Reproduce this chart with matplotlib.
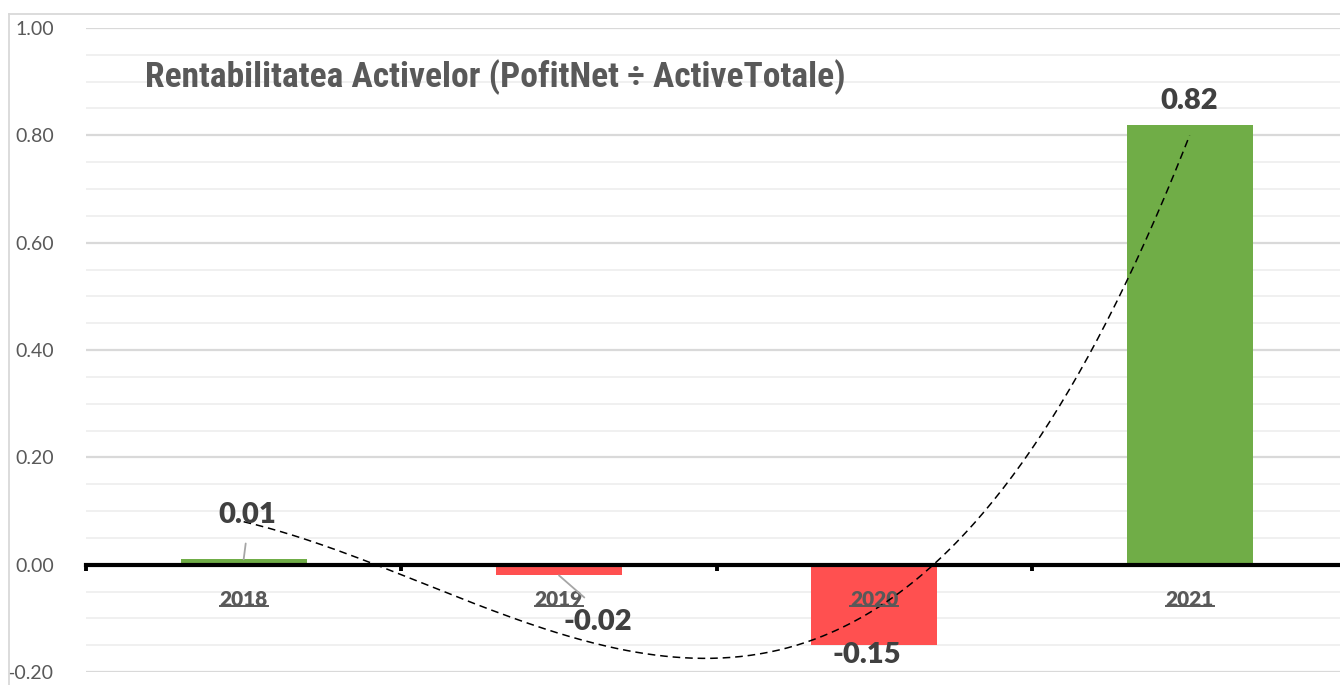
import numpy as np
import matplotlib
matplotlib.use("Agg")
import matplotlib.pyplot as plt
from matplotlib.lines import Line2D
from matplotlib.transforms import IdentityTransform

# ---------------- data ----------------
years = ["2018", "2019", "2020", "2021"]
values = [0.01, -0.02, -0.15, 0.82]
value_labels = ["0.01", "-0.02", "-0.15", "0.82"]
# dashed trend curve, read at each category position
trend_values = [0.08, -0.128, -0.084, 0.80]
y_ticks = [-0.20, 0.00, 0.20, 0.40, 0.60, 0.80, 1.00]
y_tick_labels = ["-0.20", "0.00", "0.20", "0.40", "0.60", "0.80", "1.00"]
title = "Rentabilitatea Activelor (PofitNet \u00f7 ActiveTotale)"

# ---------------- style ----------------
GREEN = "#70AD47"
RED = "#FF5050"
GRAY_TXT = "#595959"
LABEL_TXT = "#404040"
FONT = ["Lato", "DejaVu Sans"]

W, H = 1340, 685
fig = plt.figure(figsize=(W / 100, H / 100), dpi=100)
fig.patch.set_facecolor("white")

left_px, right_px, top_px, bot_px = 86, 1347.3, 28, 672
ax = fig.add_axes([left_px / W, (H - bot_px) / H,
                   (right_px - left_px) / W, (bot_px - top_px) / H])

x = np.arange(1, len(years) + 1)
colors = [GREEN if v >= 0 else RED for v in values]
ax.bar(x, values, width=0.40, color=colors, zorder=2)

# trend curve (cubic through the read trend values)
coef = np.polyfit(x, trend_values, 3)
xs = np.linspace(x[0], x[-1], 300)
ax.plot(xs, np.polyval(coef, xs), color="black", lw=1.1,
        linestyle=(0, (5, 3.2)), zorder=4)

ax.set_xlim(0.5, len(years) + 0.5)
ax.set_ylim(-0.2, 1.0)

# y axis
ax.set_yticks(y_ticks)
ax.set_yticklabels(y_tick_labels, family=FONT, fontsize=14, color=GRAY_TXT)
ax.set_yticks(np.arange(-0.2, 1.0001, 0.05), minor=True)
ax.tick_params(axis="y", which="both", length=0, pad=23)
ax.yaxis.grid(True, which="minor", color="#F0F0F0", lw=1.4, zorder=0)
ax.yaxis.grid(True, which="major", color="#D9D9D9", lw=1.6, zorder=0)
ax.set_axisbelow(True)

# x axis at zero
for s in ["left", "right", "top"]:
    ax.spines[s].set_visible(False)
ax.spines["bottom"].set_position(("data", 0))
ax.spines["bottom"].set_color("black")
ax.spines["bottom"].set_linewidth(3.0)
ax.spines["bottom"].set_zorder(3)
ax.set_xticks(np.arange(0.5, len(years) + 1, 1.0))
ax.set_xticklabels([])
ax.tick_params(axis="x", which="major", length=4.5, width=2.8,
               color="black", direction="out")
ax.set_xticks(x, minor=True)
ax.set_xticklabels(years, minor=True, family=FONT, fontsize=15,
                   fontweight="heavy", color=GRAY_TXT)
ax.tick_params(axis="x", which="minor", length=0, pad=18)
ax.xaxis.set_zorder(3.5)

# data labels (offsets in pixels from bar end)
label_offsets = [(4, 44), (39, -47), (-7, -10), (0, 24)]
leader = [True, True, False, False]
for i, (xi, v, lab) in enumerate(zip(x, values, value_labels)):
    dx, dy = label_offsets[i]
    kw = {}
    if leader[i]:
        kw["arrowprops"] = dict(arrowstyle="-", color="#A6A6A6", lw=1.3,
                                shrinkA=9 if v >= 0 else 10, shrinkB=0,
                                relpos=(0.5, 0.0) if v >= 0 else (0.5, 1.0))
    ax.annotate(lab, xy=(xi, v), xytext=(dx, dy), textcoords="offset pixels",
                ha="center", va="center", family=FONT, fontsize=21,
                fontweight="heavy", color=LABEL_TXT, zorder=5, **kw)

# title
t = fig.text(145 / W, 1 - 77 / H, title, ha="left", va="center",
             family=["Roboto Condensed", "DejaVu Sans"], fontstretch="condensed",
             fontsize=30, fontweight="bold", color=GRAY_TXT)

# chart border (left / top, rest cropped)
fig.add_artist(Line2D([8.5 / W, 8.5 / W], [0, 1 - 13.5 / H],
                      transform=fig.transFigure, color="#D9D9D9", lw=1.3))
fig.add_artist(Line2D([8.5 / W, 1], [1 - 13.5 / H, 1 - 13.5 / H],
                      transform=fig.transFigure, color="#D9D9D9", lw=1.3))

# fit title width and underline year labels
fig.canvas.draw()
r = fig.canvas.get_renderer()
bb = t.get_window_extent(r)
t.set_fontsize(30 * 700 / bb.width)
for lab in ax.get_xticklabels(minor=True):
    b = lab.get_window_extent(r)
    yy = b.y0 + 3.0
    fig.add_artist(Line2D([b.x0, b.x1], [yy, yy], transform=IdentityTransform(),
                          color=GRAY_TXT, lw=1.4))

fig.savefig("out.png", dpi=100, facecolor="white")
